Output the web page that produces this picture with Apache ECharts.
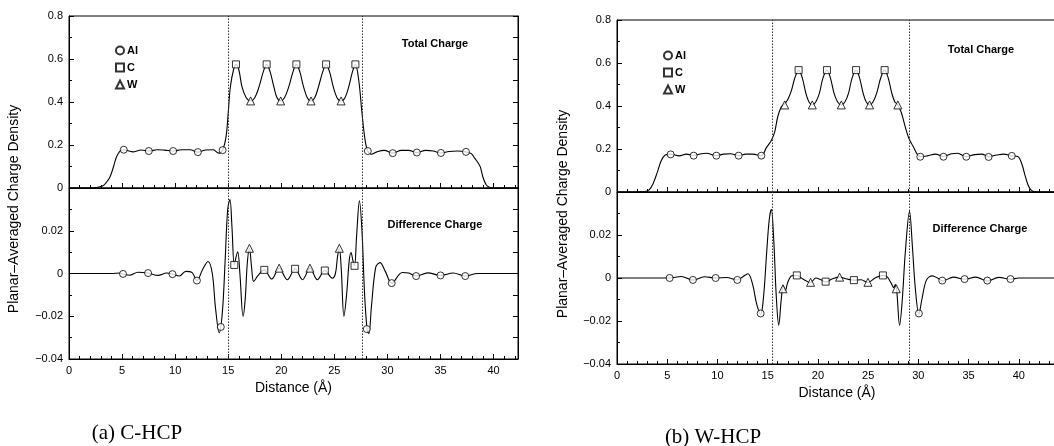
<!DOCTYPE html>
<html><head><meta charset="utf-8">
<script src="https://cdn.jsdelivr.net/npm/echarts@6/dist/echarts.min.js"></script>
<style>html,body{margin:0;padding:0;background:#fff}#c{width:1054px;height:446px}</style>
</head><body><div id="c"></div>
<script>
// ---------- Panel (a) C-HCP ----------
const aBoundaries = [15.0, 27.6];
const aTotal = [[0,0],[1,0],[2,0],[2.6,0.002],[3.2,0.01],[3.5,0.025],[3.85,0.05],[4.2,0.1],[4.47,0.144],[4.8,0.172],[5.16,0.178],
 [6.0,0.168],[6.8,0.177],[7.52,0.172],[8.3,0.178],[9.0,0.176],[9.81,0.172],[10.6,0.178],[11.4,0.178],[12.14,0.167],[12.9,0.177],[13.6,0.178],[14.1,0.162],[14.47,0.176],
 [14.8,0.24],[15.0,0.35],[15.2,0.47],[15.5,0.55],[15.73,0.575],[16.0,0.55],[16.3,0.47],[16.7,0.42],[17.11,0.405],[17.5,0.42],[17.9,0.47],[18.3,0.54],[18.62,0.575],
 [18.95,0.54],[19.3,0.47],[19.6,0.42],[19.94,0.405],[20.3,0.42],[20.7,0.47],[21.1,0.54],[21.42,0.575],[21.75,0.54],[22.1,0.47],[22.45,0.42],[22.8,0.405],
 [23.15,0.42],[23.5,0.47],[23.9,0.54],[24.22,0.575],[24.55,0.54],[24.9,0.47],[25.25,0.42],[25.63,0.405],[26.0,0.42],[26.35,0.47],[26.7,0.54],[26.98,0.575],
 [27.3,0.5],[27.6,0.35],[27.9,0.22],[28.15,0.172],[28.5,0.157],[29.0,0.168],[29.7,0.175],[30.5,0.162],[31.3,0.175],[32.0,0.175],[32.77,0.165],[33.6,0.175],
 [34.3,0.172],[35.04,0.163],[35.8,0.17],[36.6,0.172],[37.4,0.168],[37.9,0.16],[38.2,0.14],[38.5,0.12],[38.75,0.098],[39.0,0.05],[39.3,0.015],[39.6,0.003],[40.0,0],[42.3,0]];
const aTotalAl = [[5.16,0.178],[7.52,0.172],[9.81,0.172],[12.14,0.167],[14.47,0.176],[28.15,0.172],[30.5,0.162],[32.77,0.165],[35.04,0.163],[37.4,0.168]];
const aTotalC = [[15.73,0.575],[18.62,0.575],[21.42,0.575],[24.22,0.575],[26.98,0.575]];
const aTotalW = [[17.11,0.405],[19.94,0.405],[22.8,0.405],[25.63,0.405]];
const aDiff = [[0,0],[4,0],[4.8,0.0002],[5.09,-0.0002],[5.7,-0.0008],[6.5,0.0006],[7.45,0.0002],[8.4,-0.0009],[9.2,0.0002],[9.75,-0.0003],[10.4,-0.0012],[11.0,0.001],
 [11.6,0.0004],[12.05,-0.0033],[12.6,0.002],[13.1,0.0056],[13.5,0.0],[13.8,-0.016],[14.15,-0.0277],[14.45,-0.018],[14.7,0.005],[14.95,0.03],[15.16,0.0346],[15.35,0.022],
 [15.57,0.004],[15.75,0.008],[15.9,0.0102],[16.1,0.0],[16.4,-0.02],[16.6,-0.012],[16.8,0.005],[17.0,0.0118],[17.2,0.003],[17.4,-0.0037],[17.8,-0.001],[18.4,0.0017],
 [19.1,-0.0026],[19.8,0.0025],[20.57,-0.0029],[21.3,0.0022],[22.0,-0.0029],[22.7,0.0025],[23.4,-0.0029],[24.1,0.0014],[24.8,-0.0022],[25.1,0.0],[25.3,0.008],
 [25.47,0.0118],[25.65,0.002],[25.9,-0.02],[26.15,-0.01],[26.4,0.006],[26.57,0.0098],[26.75,0.006],[26.9,0.0036],[27.1,0.018],[27.36,0.034],[27.6,0.02],[27.85,-0.01],
 [28.1,-0.027],[28.25,-0.028],[28.5,-0.015],[28.9,0.003],[29.3,0.0051],[29.8,0.001],[30.4,-0.0045],[31.4,0.0005],[32.0,0.0002],[32.7,-0.0012],[33.8,0.0003],
 [35.0,-0.0009],[36.2,0.0002],[37.33,-0.0012],[38.5,0],[42.3,0]];
const aDiffAl = [[5.09,-0.0002],[7.45,0.0002],[9.75,-0.0003],[12.05,-0.0033],[14.3,-0.025],[28.05,-0.026],[30.4,-0.0045],[32.7,-0.0012],[35.0,-0.0009],[37.33,-0.0012]];
const aDiffC = [[15.57,0.004],[18.4,0.0017],[21.3,0.0022],[24.1,0.0014],[26.9,0.0036]];
const aDiffW = [[17.0,0.0118],[19.8,0.0025],[22.7,0.0025],[25.47,0.0118]];

// ---------- Panel (b) W-HCP ----------
const bBoundaries = [15.45, 29.05];
const bTotal = [[0,0],[2.0,0],[2.76,0.002],[3.2,0.01],[3.6,0.04],[4.0,0.09],[4.4,0.145],[4.8,0.172],[5.34,0.176],[6.2,0.168],[6.9,0.176],[7.63,0.17],[8.4,0.178],
 [8.9,0.18],[9.89,0.169],[10.6,0.176],[11.3,0.178],[12.11,0.169],[12.8,0.176],[13.5,0.176],[14.37,0.169],[14.86,0.205],[15.36,0.24],[15.7,0.28],[16.0,0.35],
 [16.35,0.395],[16.69,0.41],[17.0,0.43],[17.35,0.47],[17.7,0.53],[18.08,0.567],[18.45,0.53],[18.8,0.46],[19.1,0.42],[19.44,0.405],[19.8,0.42],[20.15,0.46],
 [20.5,0.53],[20.9,0.567],[21.25,0.53],[21.6,0.46],[21.95,0.42],[22.33,0.405],[22.7,0.42],[23.05,0.46],[23.4,0.53],[23.8,0.567],[24.15,0.53],[24.5,0.46],
 [24.8,0.42],[25.14,0.405],[25.5,0.42],[25.85,0.46],[26.25,0.53],[26.64,0.567],[27.0,0.53],[27.35,0.46],[27.65,0.42],[27.96,0.405],[28.3,0.37],[28.65,0.31],
 [29.05,0.25],[29.5,0.21],[29.9,0.175],[30.19,0.164],[30.9,0.168],[31.7,0.176],[32.5,0.165],[33.3,0.178],[33.9,0.18],[34.77,0.165],[35.6,0.174],[36.3,0.176],
 [36.99,0.165],[37.8,0.172],[38.5,0.176],[39.3,0.168],[39.9,0.165],[40.3,0.13],[40.6,0.08],[40.9,0.035],[41.2,0.01],[41.6,0.001],[43.8,0]];
const bTotalAl = [[5.34,0.175],[7.63,0.169],[9.89,0.169],[12.11,0.169],[14.37,0.169],[30.19,0.164],[32.5,0.164],[34.77,0.164],[36.99,0.163],[39.3,0.168]];
const bTotalC = [[18.08,0.567],[20.9,0.567],[23.8,0.567],[26.64,0.567]];
const bTotalW = [[16.69,0.405],[19.44,0.405],[22.33,0.405],[25.14,0.405],[27.96,0.405]];
const bDiff = [[0,0],[4.5,0],[5.24,0],[6.4,0.0007],[7.56,-0.001],[8.7,0.0006],[9.82,0],[10.9,0.0002],[11.98,-0.0009],[12.5,0.0005],[13.04,0.002],[13.5,-0.003],
 [13.9,-0.012],[14.3,-0.017],[14.6,-0.008],[14.9,0.012],[15.15,0.027],[15.36,0.032],[15.6,0.018],[15.85,-0.008],[16.1,-0.022],[16.35,-0.01],[16.55,-0.0035],
 [16.75,-0.006],[17.0,-0.002],[17.4,0.001],[17.9,0.0012],[18.5,-0.0005],[19.27,-0.0021],[19.8,0.0],[20.3,-0.0008],[20.77,-0.0018],[21.4,-0.0005],[22.16,0.0004],
 [22.9,-0.0005],[23.58,-0.001],[24.3,-0.0008],[24.98,-0.0021],[25.7,0.0],[26.47,0.0012],[26.9,0.0005],[27.3,-0.0025],[27.55,-0.0045],[27.7,-0.003],[27.85,-0.006],
 [28.13,-0.022],[28.4,-0.01],[28.7,0.012],[29.12,0.031],[29.4,0.015],[29.7,-0.005],[30.05,-0.0168],[30.35,-0.01],[30.8,-0.001],[31.38,0.001],[31.9,0.0],
 [32.38,-0.0014],[33.5,0.0004],[34.6,-0.0006],[35.7,0.0004],[36.86,-0.0014],[38.0,0.0003],[39.17,-0.0006],[40,0],[43.8,0]];
const bDiffAl = [[5.24,0],[7.56,-0.0009],[9.82,0],[11.98,-0.0009],[14.3,-0.0165],[30.05,-0.0165],[32.38,-0.0012],[34.6,-0.0005],[36.86,-0.0012],[39.17,-0.0005]];
const bDiffC = [[17.9,0.0012],[20.77,-0.0017],[23.58,-0.001],[26.47,0.0012]];
const bDiffW = [[16.52,-0.005],[19.27,-0.002],[22.16,0.0004],[24.98,-0.002],[27.8,-0.005]];

const xTicks = [0,5,10,15,20,25,30,35,40];
const totalTicks = [0,0.2,0.4,0.6,0.8];
const diffTicks = [-0.04,-0.02,0,0.02];
const legendNames = ['Al','C','W'];

const SANS = '"Liberation Sans", Arial, Helvetica, sans-serif';
const SERIF = '"Liberation Serif", "Times New Roman", serif';

const grids = [
  {left:69, top:16, width:449, height:172},   // a top
  {left:69, top:188, width:449, height:171},  // a bottom
  {left:617, top:20, width:440, height:172},  // b top
  {left:617, top:192, width:440, height:172}  // b bottom
].map(g => Object.assign({show:true, borderColor:'#000', borderWidth:1, backgroundColor:'transparent', outerBoundsMode:'none', containLabel:false}, g));

const xMax = [42.3, 42.3, 43.8, 43.8];
const xAxes = grids.map((g,i) => ({
  type:'value', gridIndex:i, min:0, max:xMax[i], interval:5,
  axisLine:{show:true, onZero:false, lineStyle:{color:'#000', width:1}},
  axisTick:{show:true, inside:true, length:5, lineStyle:{color:'#000'}},
  minorTick:{show:true, splitNumber:5, length:3, lineStyle:{color:'#000'}},
  splitLine:{show:false},
  axisLabel:{show: i%2===1, margin:6, fontSize:11, color:'#000', fontFamily:SANS,
    formatter: v => xTicks.includes(Math.round(v*100)/100) ? String(v) : ''},
  name: i%2===1 ? 'Distance (Å)' : '', nameLocation:'middle', nameGap:22,
  nameTextStyle:{fontSize:14, color:'#000', fontFamily:SANS}
}));

function fmtY(v, ticks){
  const r = Math.round(v*1000)/1000;
  if(!ticks.includes(r)) return '';
  if(r===0) return '0';
  return (r<0?'\u2212':'') + String(Math.abs(r));
}
const yAxes = [];
grids.forEach((g,i) => {
  const top = i%2===0;
  const base = {
    type:'value', gridIndex:i, min: top?0:-0.04, max: top?0.8:0.04, interval: top?0.2:0.02,
    axisLine:{show:true, onZero:false, lineStyle:{color:'#000', width:1}},
    axisTick:{show:true, inside:true, length:5, lineStyle:{color:'#000'}},
    minorTick:{show:true, splitNumber:2, length:3, lineStyle:{color:'#000'}},
    splitLine:{show:false}
  };
  yAxes.push(Object.assign({}, base, {position:'left',
    axisLabel:{show:true, margin:6, fontSize:11, color:'#000', fontFamily:SANS,
      formatter: v => fmtY(v, top?totalTicks:diffTicks)}}));
  yAxes.push(Object.assign({}, base, {position:'right', axisLabel:{show:false},
    minorTick:{show:false}, interval: top?0.1:0.01, show: i<2}));
});

const curves = [aTotal, aDiff, bTotal, bDiff];
const markers = [[aTotalAl,aTotalC,aTotalW],[aDiffAl,aDiffC,aDiffW],[bTotalAl,bTotalC,bTotalW],[bDiffAl,bDiffC,bDiffW]];
const bounds = [aBoundaries, aBoundaries, bBoundaries, bBoundaries];
const symbols = ['circle','rect','triangle'];
const symSizes = [7,7,8];

const series = [];
curves.forEach((c,i) => {
  series.push({
    type:'line', xAxisIndex:i, yAxisIndex:i*2, data:c, symbol:'none', smooth:0.35,
    lineStyle:{color:'#000', width:1.1}, z:2, silent:true,
    markLine:{silent:true, symbol:['none','none'], label:{show:false},
      lineStyle:{color:'#333', width:1, type:[1.5,1.5]},
      data: bounds[i].map(b => ({xAxis:b}))}
  });
  markers[i].forEach((m,k) => {
    series.push({
      type:'scatter', name:legendNames[k], xAxisIndex:i, yAxisIndex:i*2, data:m,
      symbol:symbols[k], symbolSize:symSizes[k], z:3,
      itemStyle:{color:'#fff', borderColor:'#000', borderWidth:1}
    });
  });
});

const legendBase = {orient:'vertical', data:legendNames, itemWidth:8, itemHeight:8, itemGap:6,
  selectedMode:false, textStyle:{fontSize:11, fontWeight:'bold', color:'#000', fontFamily:SANS, padding:[0,0,0,-2]}};

const labelText = (x,y,t) => ({type:'text', x:x, y:y, style:{text:t, font:'bold 11px '+SANS, fill:'#000', textAlign:'center', textVerticalAlign:'middle'}});

const option = {
  animation:false,
  backgroundColor:'#fff',
  grid:grids, xAxis:xAxes, yAxis:yAxes, series:series,
  legend:[Object.assign({left:110, top:40}, legendBase), Object.assign({left:658, top:45}, legendBase)],
  graphic:[
    labelText(435,44,'Total Charge'),
    labelText(435,225,'Difference Charge'),
    labelText(981,50,'Total Charge'),
    labelText(980,229,'Difference Charge'),
    {type:'text', x:14, y:209, rotation:Math.PI/2, style:{text:'Planar\u2013Averaged Charge Density', font:'14px '+SANS, fill:'#000', textAlign:'center', textVerticalAlign:'middle'}},
    {type:'text', x:563, y:214, rotation:Math.PI/2, style:{text:'Planar\u2013Averaged Charge Density', font:'14px '+SANS, fill:'#000', textAlign:'center', textVerticalAlign:'middle'}},
    {type:'text', x:137, y:433, style:{text:'(a) C-HCP', font:'21px '+SERIF, fill:'#000', textAlign:'center', textVerticalAlign:'middle'}},
    {type:'text', x:713, y:437, style:{text:'(b) W-HCP', font:'21px '+SERIF, fill:'#000', textAlign:'center', textVerticalAlign:'middle'}}
  ]
};
const chart = echarts.init(document.getElementById('c'), null, {renderer:'canvas'});
chart.setOption(option);
</script></body></html>
